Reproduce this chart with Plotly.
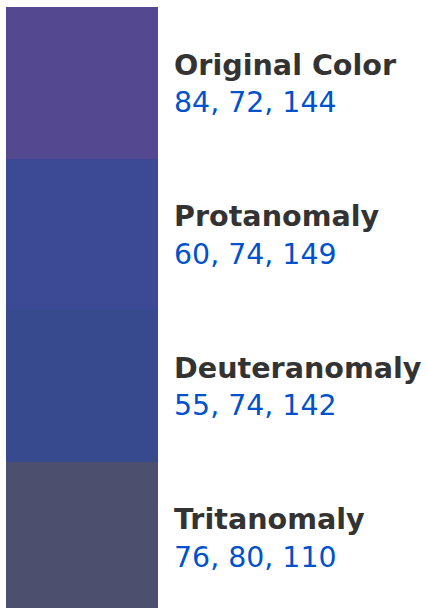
import plotly.graph_objects as go

labels = ["Original Color", "Protanomaly", "Deuteranomaly", "Tritanomaly"]
red = [84, 60, 55, 76]
green = [72, 74, 74, 80]
blue = [144, 149, 142, 110]

colors = [f"rgb({r},{g},{b})" for r, g, b in zip(red, green, blue)]
values = [f"{r}, {g}, {b}" for r, g, b in zip(red, green, blue)]
pos = list(range(len(labels)))

W, H = 427, 608
px_per_unit = 151.5
bar_px = 152
left_px = 6
top_px = 7

x0 = -0.5 - left_px / bar_px
x1 = x0 + W / bar_px
y_bottom = (H - top_px) / px_per_unit

fig = go.Figure(go.Bar(
    x=[0] * len(labels),
    y=[1] * len(labels),
    base=pos,
    width=1,
    marker=dict(color=colors, line=dict(width=0)),
    hoverinfo="skip",
))

text_x = x0 + 172 / bar_px
annotations = []
for i, (lab, val) in enumerate(zip(labels, values)):
    annotations.append(dict(
        x=text_x, y=i + 0.5, xref="x", yref="y", xanchor="left", yanchor="middle",
        text=f"<b>{lab}</b>", showarrow=False, yshift=18,
        font=dict(family="DejaVu Sans", size=28.6, color="#333333"),
    ))
    annotations.append(dict(
        x=text_x, y=i + 0.5, xref="x", yref="y", xanchor="left", yanchor="middle",
        text=val, showarrow=False, yshift=-20,
        font=dict(family="DejaVu Sans", size=28.4, color="#0052cc"),
    ))

fig.update_layout(
    width=W, height=H,
    margin=dict(l=0, r=0, t=top_px, b=0),
    paper_bgcolor="white", plot_bgcolor="white",
    showlegend=False,
    bargap=0,
    xaxis=dict(range=[x0, x1], visible=False, fixedrange=True),
    yaxis=dict(range=[y_bottom, 0], visible=False, fixedrange=True),
    annotations=annotations,
)

fig.write_html(
    "out.html",
    config={"displayModeBar": False},
    post_script="document.body.style.margin='0';",
)
